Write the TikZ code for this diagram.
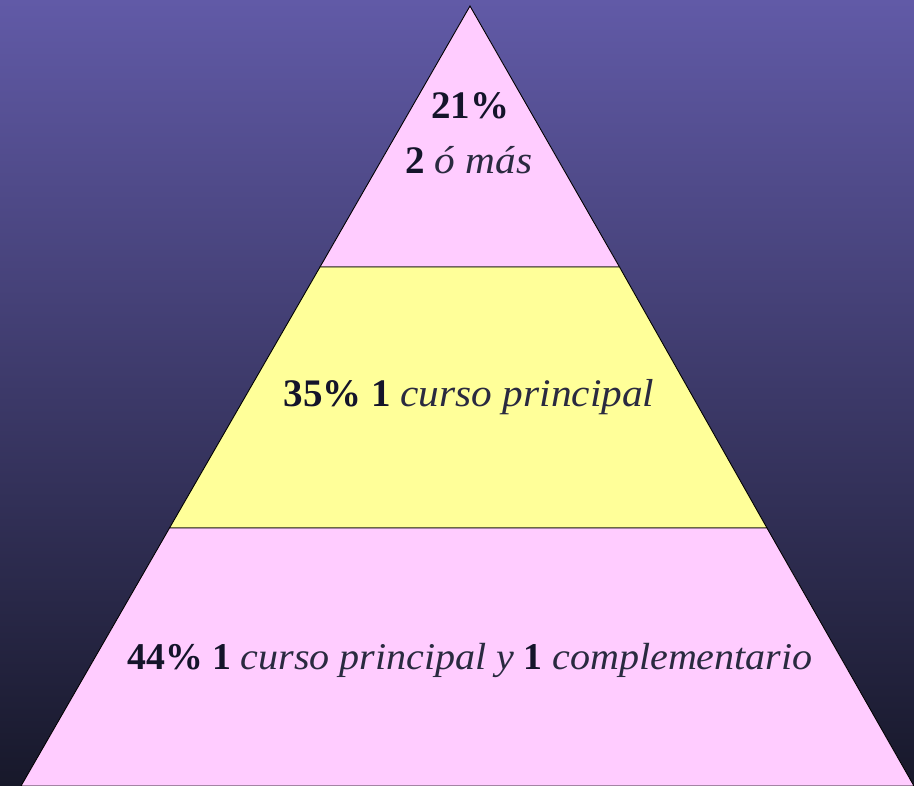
\documentclass[tikz,border=0pt]{standalone}
\usepackage{fontspec}
\setmainfont{Liberation Serif}
\newfontfamily\wordfam{Liberation Serif}[FakeStretch=1.06]
\definecolor{bgtop}{HTML}{615AA7}
\definecolor{bgbot}{HTML}{17182A}
\definecolor{pinkc}{HTML}{FFCCFF}
\definecolor{yellowc}{HTML}{FFFF99}
\definecolor{numc}{HTML}{14142A}
\definecolor{wordc}{HTML}{2A2A40}
\newcommand{\numtxt}[1]{{\bfseries\color{numc}#1}}
\newcommand{\wrdtxt}[1]{{\wordfam\itshape\color{wordc}#1}}
\begin{document}
\begin{tikzpicture}[x=1pt,y=-1pt,
  tier/.style={draw=black,line width=0.9pt,line join=miter},
  lbl/.style={font=\fontsize{39}{44}\selectfont,inner sep=0pt}]
\shade[top color=bgtop,bottom color=bgbot] (0,0) rectangle (914,786);
\useasboundingbox (0,0) rectangle (914,786);
\coordinate (apex) at (470,6);
\coordinate (l1) at (320,267);
\coordinate (r1) at (619.5,267);
\coordinate (l2) at (169.5,528);
\coordinate (r2) at (767,528);
\coordinate (bl) at (21,786);
\coordinate (br) at (914,786);
\filldraw[tier,fill=pinkc] (apex) -- (r1) -- (l1) -- cycle;
\filldraw[tier,fill=yellowc] (l1) -- (r1) -- (r2) -- (l2) -- cycle;
\filldraw[tier,fill=pinkc] (l2) -- (r2) -- (br) -- (bl) -- cycle;
\node[lbl] (t21) at (470,106) {\numtxt{21\%}};
\node[lbl] (t2m) at (469,160) {\numtxt{2} \wrdtxt{ó más}};
\node[lbl] (t35) at (469,397) {\numtxt{35\% 1} \wrdtxt{curso principal}};
\node[lbl,font=\fontsize{37.8}{44}\selectfont] (t44) at (470,660) {\numtxt{44\% 1} \wrdtxt{curso principal y} \numtxt{1} \wrdtxt{complementario}};
\end{tikzpicture}
\end{document}
